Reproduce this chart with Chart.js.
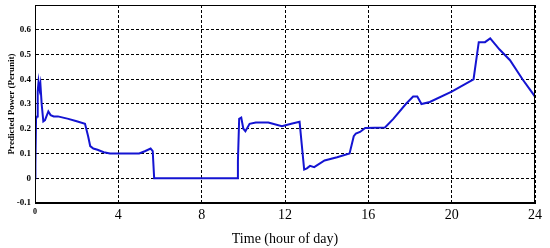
<!DOCTYPE html>
<html>
<head>
<meta charset="utf-8">
<script src="https://cdn.jsdelivr.net/npm/chart.js@4"></script>
<style>
  html, body { margin: 0; padding: 0; background: #fff; }
  #wrap { width: 550px; height: 248px; }
</style>
</head>
<body>
<div id="wrap"><canvas id="power"></canvas></div>
<script>
// datos
const hours = [0, 0.02, 0.05, 0.1, 0.13, 0.17, 0.22, 0.26, 0.32, 0.4, 0.48, 0.64, 0.75, 0.9, 1.1, 1.6, 2.0, 2.4,
  2.55, 2.65, 2.8, 3.0, 3.3, 3.6, 4.0, 5.0, 5.3, 5.55, 5.65, 5.72, 9.72, 9.74, 9.8, 9.9, 10.0, 10.1, 10.3, 10.6,
  11.2, 11.85, 12.3, 12.7, 12.8, 12.92, 13.05, 13.2, 13.4, 13.9, 14.5, 15.1, 15.3, 15.4, 15.6, 15.85, 16.8, 17.2,
  17.8, 18.15, 18.35, 18.55, 18.95, 20.0, 21.05, 21.3, 21.6, 21.85, 22.3, 22.8, 23.4, 24];
const power = [0, 0.06, 0.24, 0.25, 0.35, 0.39, 0.36, 0.38, 0.3, 0.23, 0.235, 0.27, 0.255, 0.25, 0.25, 0.24, 0.23, 0.22,
  0.17, 0.13, 0.12, 0.115, 0.105, 0.1, 0.1, 0.1, 0.11, 0.12, 0.11, 0, 0, 0.07, 0.24, 0.245, 0.2, 0.19, 0.22, 0.225,
  0.225, 0.21, 0.22, 0.228, 0.14, 0.035, 0.04, 0.05, 0.045, 0.072, 0.085, 0.1, 0.17, 0.18, 0.187, 0.203, 0.205, 0.24,
  0.3, 0.33, 0.33, 0.3, 0.308, 0.35, 0.4, 0.55, 0.55, 0.565, 0.52, 0.477, 0.4, 0.33];
const xTicks = [0, 4, 8, 12, 16, 20, 24];
const yTicks = [-0.1, 0, 0.1, 0.2, 0.3, 0.4, 0.5, 0.6];

const points = hours.map((h, i) => ({ x: h, y: power[i] }));

// marco sólido alrededor del área de trazado
const frame = {
  id: 'frame',
  afterDraw(chart) {
    const a = chart.chartArea;
    const c = chart.ctx;
    c.save();
    c.strokeStyle = '#000';
    c.lineWidth = 1;
    c.strokeRect(a.left + 0.5, a.top + 0.5, a.right - a.left - 1, a.bottom - a.top - 1);
    c.restore();
  }
};

new Chart(document.getElementById('power'), {
  type: 'line',
  data: {
    datasets: [{
      data: points,
      borderColor: '#1414d2',
      borderWidth: 2,
      pointRadius: 0,
      tension: 0,
      fill: false
    }]
  },
  options: {
    responsive: true,
    maintainAspectRatio: false,
    animation: false,
    layout: { padding: { top: 5, right: 15, left: 6, bottom: 0 } },
    plugins: { legend: { display: false }, tooltip: { enabled: false } },
    scales: {
      x: {
        type: 'linear',
        min: 0,
        max: 24,
        afterFit: s => { s.height = 45; },
        afterBuildTicks: s => { s.ticks = xTicks.map(v => ({ value: v })); },
        grid: { color: '#000', lineWidth: 1, drawTicks: false },
        border: { color: '#000', width: 1, dash: [3, 2] },
        ticks: {
          color: '#000',
          padding: 4,
          maxRotation: 0,
          font: c => c.index === 0
            ? { family: 'Liberation Serif', size: 8, weight: 'bold' }
            : { family: 'Liberation Serif', size: 14 }
        },
        title: {
          display: true,
          text: 'Time (hour of day)',
          color: '#000',
          font: { family: 'Liberation Serif', size: 14 },
          padding: { top: 2, bottom: 0 }
        }
      },
      y: {
        min: -0.1,
        max: 0.7,
        afterFit: s => { s.width = 29; s.paddingTop = 0; },
        afterBuildTicks: s => { s.ticks = yTicks.concat([0.7]).map(v => ({ value: v })); },
        grid: { color: '#000', lineWidth: 1, drawTicks: false },
        border: { color: '#000', width: 1, dash: [3, 2] },
        ticks: {
          color: '#000',
          padding: 4,
          font: { family: 'Liberation Serif', size: 9, weight: 'bold' },
          callback: v => {
            const r = Math.round(v * 10) / 10;
            return r > 0.65 ? '' : String(r);
          }
        },
        title: {
          display: true,
          text: 'Predicted Power (Perunit)',
          color: '#000',
          font: { family: 'Liberation Serif', size: 9, weight: 'bold' },
          padding: { top: 0, bottom: 0 }
        }
      }
    }
  },
  plugins: [frame]
});
</script>
</body>
</html>
